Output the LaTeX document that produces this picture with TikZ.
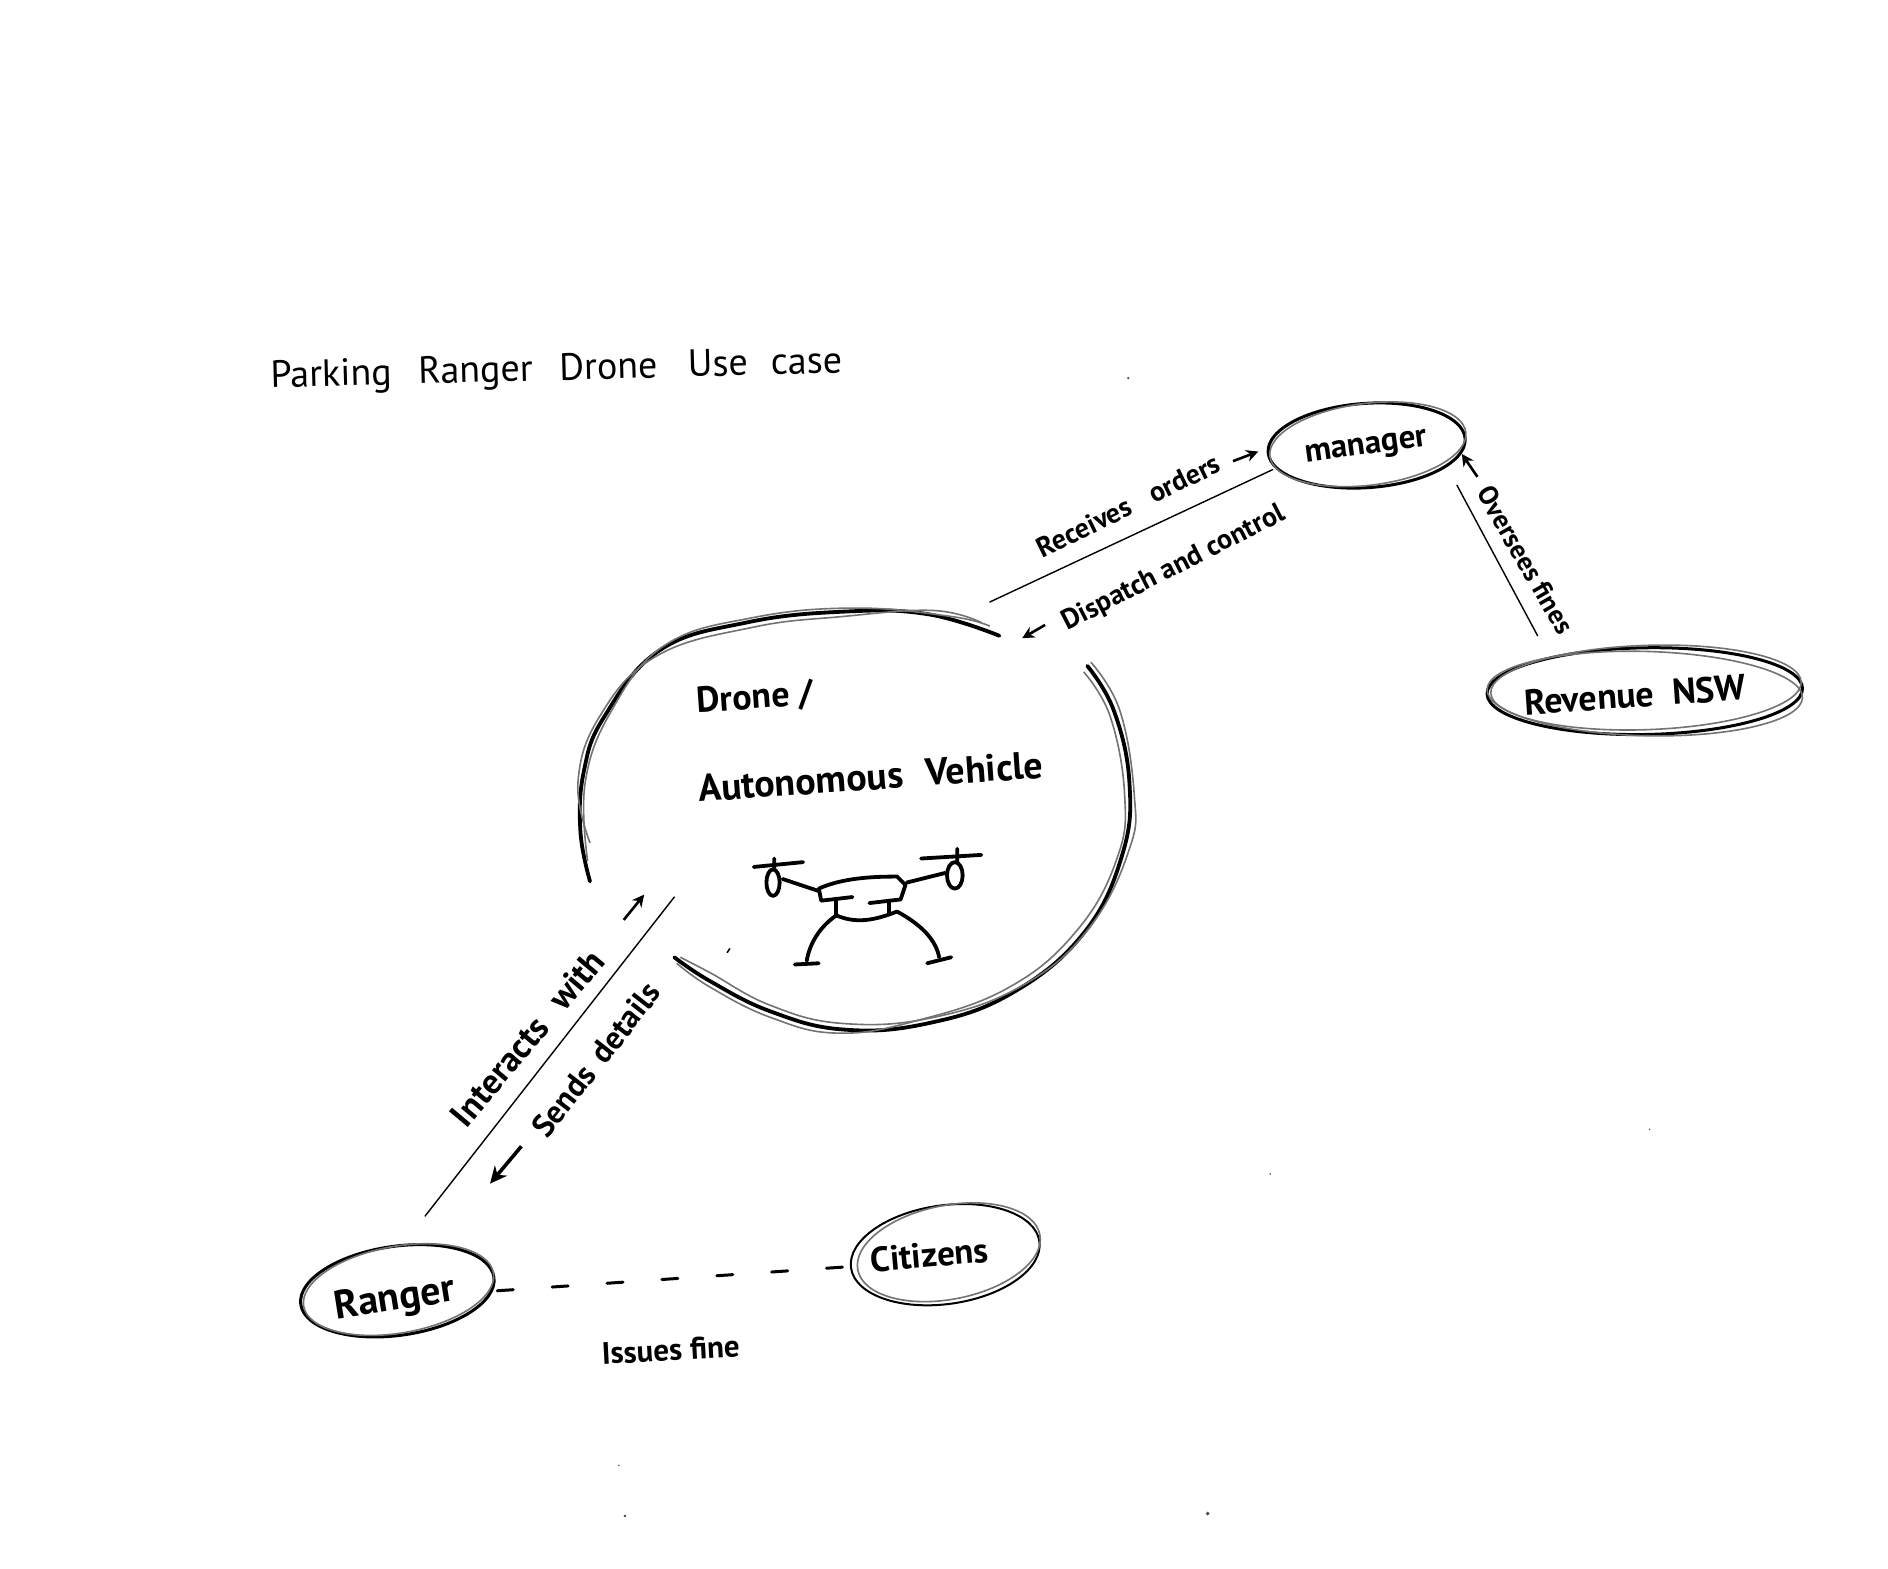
\documentclass[tikz,border=0pt]{standalone}
\usepackage{fontspec}
\setmainfont{PT Sans}
\usetikzlibrary{arrows.meta,shapes.geometric}
\tikzset{
 hand/.style={inner sep=0pt,text=black,font=\fontsize{#1}{#1}\selectfont},
 handb/.style={inner sep=0pt,text=black,font=\fontsize{#1}{#1}\selectfont\bfseries},
 blob/.style={ellipse,draw=black,line width=3pt,minimum width=#1,inner sep=0pt},
 pencil/.style={draw=black!55,line width=1.6pt},
 ink/.style={draw=black,line width=3.8pt,line cap=round,line join=round},
 thinline/.style={draw=black,line width=1.4pt,line cap=round},
 tip/.style={draw=black,line width=2.6pt,-{Stealth[length=12pt,width=12pt]}},
 tipb/.style={draw=black,line width=3.6pt,-{Stealth[length=17pt,width=16pt]}},
 arc/.style={draw=black,line width=3.8pt,line cap=round},
 speck/.style={fill=black!70,draw=none}
}
\begin{document}
\begin{tikzpicture}[x=1.204pt,y=-1.204pt]
\useasboundingbox (0,0) rectangle (1568,1302.3);
\fill[white] (0,0) rectangle (1568,1302.3);
% title
\node[hand=38] (title) at (462,308) [rotate=1.5] {Parking\hspace{0.7em}Ranger\hspace{0.7em}Drone\hspace{0.8em}Use\hspace{0.6em}case};
% drone body circle: strokes
\draw[arc] plot[smooth,tension=0.7] coordinates {(490,732) (482,690) (485,640) (502,595) (548,540) (620,517) (700,508) (770,510) (830,528)};
\draw[pencil] plot[smooth,tension=0.7] coordinates {(488,715) (486,650) (508,590) (552,536) (625,513) (710,505) (790,512) (822,520)};
\draw[pencil] plot[smooth,tension=0.7] coordinates {(490,700) (480,650) (498,595) (545,545) (625,521) (700,512) (775,507) (815,517)};
\draw[arc] plot[smooth,tension=0.7] coordinates {(903,553) (925,590) (938,650) (932,710) (900,775) (840,825) (770,850) (700,855) (640,840) (590,815) (560,795)};
\draw[pencil] plot[smooth,tension=0.7] coordinates {(906,550) (930,590) (942,660) (938,705) (905,770) (850,818) (775,845) (700,850) (640,835) (590,808) (565,795)};
\draw[pencil] plot[smooth,tension=0.7] coordinates {(900,558) (922,595) (934,660) (928,712) (895,772) (838,820) (760,848) (695,858) (640,845) (590,820) (562,800)};
\node[handb=36] (d1) at (627,580) [rotate=4] {Drone /};
\node[handb=38] (d2) at (723,645) [rotate=4] {Autonomous\hspace{0.6em}Vehicle};
% drone sketch
\draw[ink] (626,720)--(667,716) (643,713)--(643,722);
\draw[ink] (642,733) ellipse (5.5 and 11);
\draw[ink] (650,730)--(680,740);
\draw[ink] (765,713)--(815,710) (795,705)--(795,716);
\draw[ink] (793,727) ellipse (6.5 and 11);
\draw[ink] (753,733)--(785,725);
\draw[ink] (708,745)--(682,748)--(680,738) .. controls (700,729) and (725,728) .. (745,728) -- (752,735) -- (748,747) -- (722,750);
\draw[ink] (694,747)--(694,760) (738,748)--(738,758);
\draw[ink] (694,760) .. controls (710,767) and (725,765) .. (745,757);
\draw[ink] (695,760) .. controls (680,770) and (672,785) .. (670,798);
\draw[ink] (745,757) .. controls (765,768) and (777,780) .. (780,795);
\draw[ink] (660,801)--(680,800) (770,800)--(790,795);
\draw[ink,line width=1.6pt] (604,791)--(606,788);
% actor ellipses
\node[blob=164*1.204pt,minimum height=70*1.204pt,rotate=4] (manager) at (1135,370) {};
\node[blob=164*1.204pt,minimum height=68*1.204pt,rotate=7,pencil] at (1136,369) {};
\node[handb=33] at (1135,373) [rotate=8] {manager};
\node[blob=262*1.204pt,minimum height=72*1.204pt,rotate=1] (revenue) at (1366,574) {};
\node[blob=262*1.204pt,minimum height=70*1.204pt,rotate=-1.5,pencil] at (1366,576) {};
\node[blob=258*1.204pt,minimum height=70*1.204pt,rotate=2,pencil] at (1367,571) {};
\node[handb=36] at (1358,577) [rotate=4] {Revenue\hspace{0.5em}NSW};
\node[blob=162*1.204pt,minimum height=74*1.204pt,rotate=8] (ranger) at (330,1072) {};
\node[blob=160*1.204pt,minimum height=72*1.204pt,rotate=10,pencil] at (331,1071) {};
\node[handb=40] at (328,1080) [rotate=9] {Ranger};
\node[blob=158*1.204pt,minimum height=82*1.204pt,rotate=8,line width=2pt] (citizens) at (785,1042) {};
\node[blob=154*1.204pt,minimum height=78*1.204pt,rotate=11,pencil] at (788,1040) {};
\node[handb=35] at (772,1042) [rotate=5] {Citizens};
% connector ends
\coordinate (aA) at (822,500);
\coordinate (aB) at (1057,390);
\coordinate (bA) at (1277,528);
\coordinate (bB) at (1210,403);
\coordinate (cA) at (353,1010);
\coordinate (cB) at (560,745);
\coordinate (dA) at (413,1072);
\coordinate (dB) at (705,1052);
\draw[thinline] (aA)--(aB);
\draw[thinline] (bA)--(bB);
\draw[thinline] (cA)--(cB);
\draw[draw=black,line width=3pt,line cap=round,dash pattern=on 16pt off 39pt] (dA)--(dB);
% labels
\node[handb=28] at (937,420) [rotate=26] {Receives\hspace{0.8em}orders};
\coordinate (t1a) at (1024,383); \coordinate (t1b) at (1045,375);
\draw[tip] (t1a)--(t1b);
\node[handb=28] at (975,472) [rotate=27] {Dispatch and control};
\coordinate (t2a) at (868,519); \coordinate (t2b) at (849,530);
\draw[tip] (t2a)--(t2b);
\node[handb=27] at (1267,465) [rotate=-60] {Oversees fines};
\coordinate (t3a) at (1227,396); \coordinate (t3b) at (1214,377);
\draw[tip] (t3a)--(t3b);
\node[handb=35] at (438,862) [rotate=50] {Interacts\hspace{0.6em}with};
\coordinate (t4a) at (518,764); \coordinate (t4b) at (535,743);
\draw[tip] (t4a)--(t4b);
\node[handb=32] at (495,880) [rotate=52] {Sends\hspace{0.4em}details};
\coordinate (t5a) at (433,952); \coordinate (t5b) at (407,983);
\draw[tipb] (t5a)--(t5b);
\node[handb=31] at (557,1121) [rotate=3] {Issues fine};
% specks
\fill[speck] (937,314) circle (1);
\fill[speck] (519,1259) circle (1.2);
\fill[speck] (1003,1257) circle (1.6);
\fill[speck] (1370,938) circle (0.7);
\fill[speck] (1055,975) circle (0.7);
\fill[speck] (514,1217) circle (0.7);
\end{tikzpicture}
\end{document}
